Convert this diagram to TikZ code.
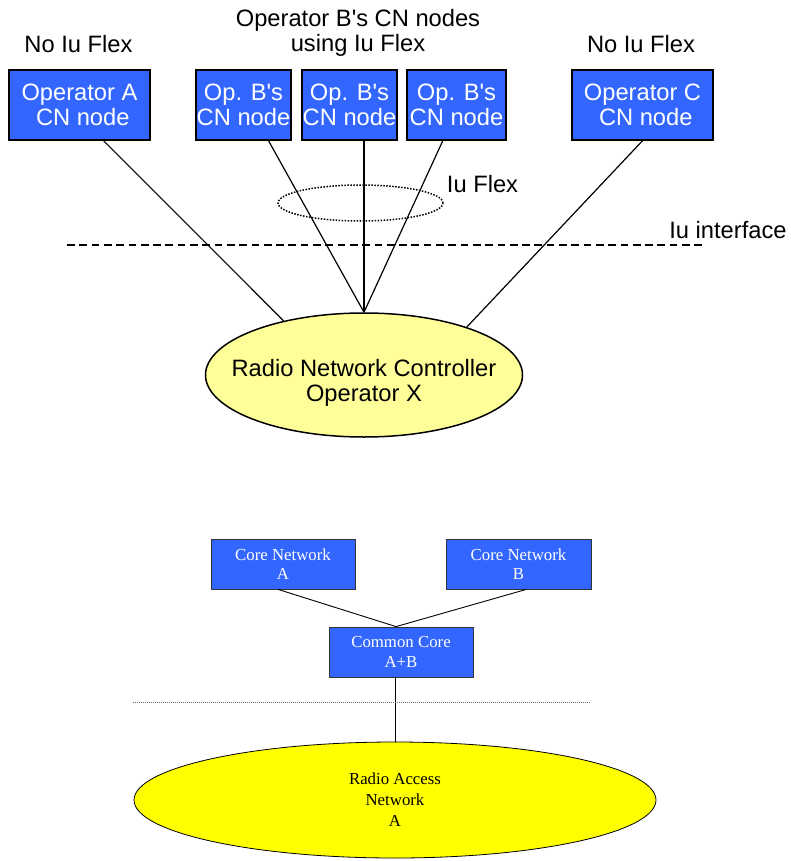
\documentclass[tikz,border=0pt]{standalone}
\usepackage{fontspec}
\setmainfont{Liberation Sans}[Ligatures=TeXOff]
\newfontfamily\timesfont{Liberation Serif}
\usetikzlibrary{positioning, shapes.geometric}

\definecolor{cnblue}{RGB}{51,102,255}
\definecolor{rncyellow}{RGB}{255,255,153}
\definecolor{ranyellow}{RGB}{255,255,0}

\begin{document}
\begin{tikzpicture}[x=1pt, y=-1pt,
		big/.style={font=\fontsize{23.7}{24.5}\selectfont, align=center, inner sep=0pt},
		cn/.style={big, draw=black, line width=1.5pt, fill=cnblue, text=white, minimum height=70pt},
		small/.style={font=\timesfont\fontsize{16.8}{19.5}\selectfont, align=center, inner sep=0pt},
		core/.style={small, draw=black!80, line width=0.8pt, fill=cnblue, text=white, minimum width=144pt, minimum height=50pt},
		link/.style={line width=1.2pt}]
		\useasboundingbox (0,0) rectangle (790,861);

		% upper picture: RNC shared by three operators
		\node[big] (noflexA) at (78.5,44) {No Iu Flex};
		\node[big] (flexB) at (358,33) {Operator B's CN nodes\\using Iu Flex};
		\node[big] (noflexC) at (641,44) {No Iu Flex};

		\node[cn, minimum width=141pt] (opA) at (79.5,105) {Operator A\\\mbox{}\ CN node};
		\node[cn, minimum width=95pt] (opB1) at (243.5,105) {Op. B's\\CN node};
		\node[cn, minimum width=95pt] (opB2) at (349.5,105) {Op. B's\\CN node};
		\node[cn, minimum width=99pt] (opB3) at (456.5,105) {Op. B's\\CN node};
		\node[cn, minimum width=141pt] (opC) at (642.5,105) {Operator C\\\mbox{}\ CN node};

		\node[ellipse, draw=black, line width=1.5pt, fill=rncyellow, minimum width=317pt, minimum height=124pt] (rnc) at (364,375) {};
		\node[big] (rnctext) at (364,383) {Radio Network Controller\\Operator X};

		\draw[link] (rnc.north) edge (opB1.-55) edge (opB3.-111) -- (opB2.south -| rnc.north);
		\draw[link] (opA.-56) -- (rnc.146);
		\draw[link] (opC.south) -- (rnc.25);

		\node[ellipse, draw=black, line width=1.5pt, dash pattern=on 1.5pt off 1.5pt, minimum width=165pt, minimum height=36pt] (flexring) at (360.5,203) {};
		\node[big] (flexlabel) at (482.5,184) {Iu Flex};

		\coordinate (iuleft) at (67,245);
		\coordinate (iuright) at (702,245);
		\draw[line width=1.5pt, dash pattern=on 7.7pt off 4.6pt] (iuleft) -- (iuright);
		\node[big] (iulabel) at (728,230) {Iu interface};

		% lower picture: common core
		\node[core] (coreA) at (283,564) {Core Network\\A};
		\node[core, minimum width=145pt] (coreB) at (518.5,564) {Core Network\\B};
		\node[core] (common) at (401,652) {Common Core\\A+B};

		\node[ellipse, draw=black, line width=0.8pt, fill=ranyellow, small, font=\timesfont\fontsize{16.8}{21}\selectfont, minimum width=522pt, minimum height=116pt] (ran) at (395,800) {Radio Access\\Network\\A};

		\draw[line width=0.9pt] (common.101) edge (coreA.-101) -- (coreB.-73);
		\draw[line width=0.9pt] (common.south -| ran.north) -- (ran.north);
		\draw[black!60, line width=0.6pt, dash pattern=on 1pt off 1pt] (133,702) -- (591,702);
	\end{tikzpicture}
\end{document}
